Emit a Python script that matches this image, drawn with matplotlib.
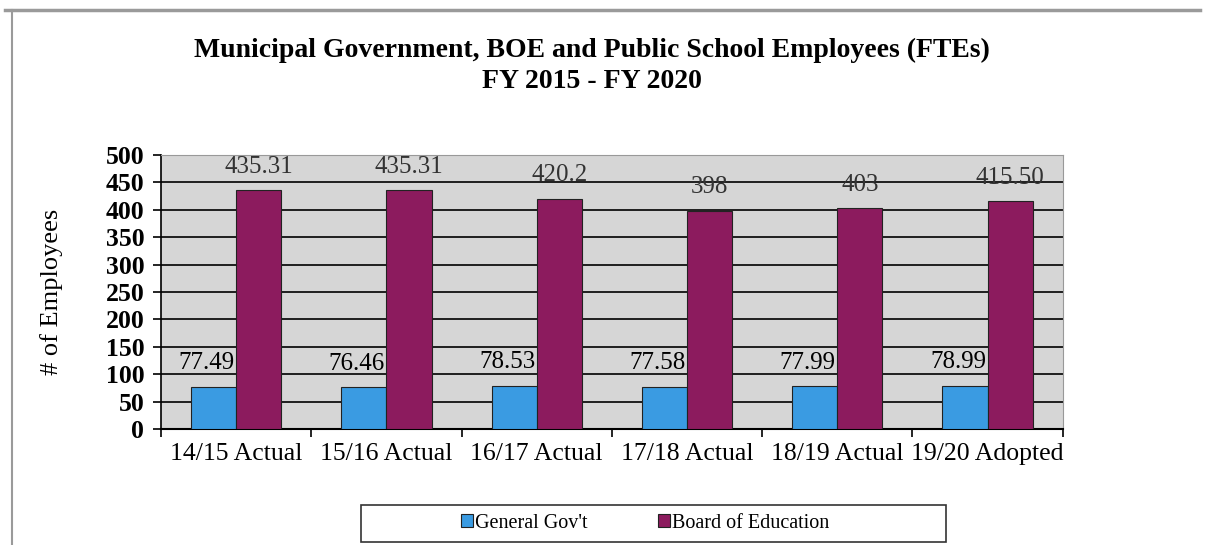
import matplotlib.pyplot as plt
from matplotlib.lines import Line2D
import matplotlib.patches as mpatches
import numpy as np

plt.rcParams['font.family'] = ['Liberation Serif', 'DejaVu Serif']

# FTE counts by fiscal year
years = ['14/15 Actual', '15/16 Actual', '16/17 Actual', '17/18 Actual', '18/19 Actual', '19/20 Adopted']
general_gov = [77.49, 76.46, 78.53, 77.58, 77.99, 78.99]
board_ed = [435.31, 435.31, 420.2, 398, 403, 415.50]
general_labels = ['77.49', '76.46', '78.53', '77.58', '77.99', '78.99']
board_labels = ['435.31', '435.31', '420.2', '398', '403', '415.50']

blue = '#3A9BE2'
purple = '#8C1B5E'

fig = plt.figure(figsize=(12.09, 5.45), dpi=100)
ax = fig.add_axes([0.1332, 0.2128, 0.7458, 0.5028])

# chart frame: top and left edge only
fig.lines.append(Line2D([5/1209, 1200/1209], [1 - 10/545, 1 - 10/545], transform=fig.transFigure,
                        color='#9a9a9a', linewidth=2.5))
fig.lines.append(Line2D([12/1209, 12/1209], [0, 1 - 10/545], transform=fig.transFigure,
                        color='#9a9a9a', linewidth=1.5))

x = np.arange(len(years))
w = 0.3
b1 = ax.bar(x - w/2, general_gov, w, color=blue, edgecolor='#222222', linewidth=0.8, zorder=3, label="General Gov't")
b2 = ax.bar(x + w/2, board_ed, w, color=purple, edgecolor='#222222', linewidth=0.8, zorder=3, label='Board of Education')

for i in range(len(years)):
    ax.annotate(general_labels[i], (x[i] - w/2, general_gov[i]), xytext=(-5, 17), textcoords='offset points',
                ha='center', va='center', fontsize=18, zorder=4)
    ax.annotate(board_labels[i], (x[i] + w/2, board_ed[i]), xytext=(0, 17), textcoords='offset points',
                ha='center', va='center', fontsize=18, color='#333333', zorder=4)

ax.set_facecolor('#D6D6D6')
ax.set_xlim(-0.5, len(years) - 0.5)
ax.set_ylim(0, 500)
ax.set_yticks(np.arange(0, 501, 50))
ax.tick_params(axis='y', labelsize=18.5, length=6, width=1.2, direction='out', pad=6)
for t in ax.get_yticklabels():
    t.set_fontweight('bold')
ax.grid(axis='y', color='black', linewidth=1.2, zorder=0)
ax.set_axisbelow(True)

ax.set_xticks(np.arange(-0.5, len(years)), labels=[])
ax.set_xticks(x, labels=years, minor=True)
ax.tick_params(axis='x', which='major', length=6, width=1.2, direction='out')
ax.tick_params(axis='x', which='minor', length=0, labelsize=18.5, pad=10)

ax.spines['left'].set_linewidth(1.2)
ax.spines['bottom'].set_linewidth(1.5)
ax.spines['top'].set_color('#999999')
ax.spines['right'].set_color('#999999')

ax.set_ylabel('# of Employees', fontsize=19, labelpad=31)

fig.text(0.49, 1 - 50/545, 'Municipal Government, BOE and Public School Employees (FTEs)',
         ha='center', va='center', fontsize=20, fontweight='bold')
fig.text(0.49, 1 - 81/545, 'FY 2015 - FY 2020', ha='center', va='center', fontsize=20, fontweight='bold')

# legend box at the bottom
fig.patches.append(mpatches.Rectangle((361/1209, 1 - 542/545), 585/1209, 37/545, transform=fig.transFigure,
                                      facecolor='white', edgecolor='#333333', linewidth=1.2))
fig.legend(handles=[b1, b2], loc='center', bbox_to_anchor=(645/1209, 1 - 523/545), ncol=2, frameon=False,
           fontsize=14.5, handlelength=0.6, handleheight=0.6, handletextpad=0.1, columnspacing=3.5)

fig.savefig('out.png', dpi=100)
